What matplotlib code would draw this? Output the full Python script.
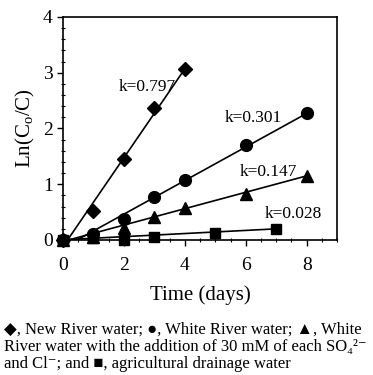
import matplotlib.pyplot as plt
from matplotlib.ticker import MultipleLocator

plt.rcParams['font.family'] = ['Liberation Serif', 'DejaVu Serif']
plt.rcParams['mathtext.fontset'] = 'custom'
plt.rcParams['mathtext.rm'] = 'Liberation Serif'

# data
t_new = [0, 1, 2, 3, 4]
y_new = [0, 0.52, 1.45, 2.36, 3.07]
t_white = [0, 1, 2, 3, 4, 6, 8]
y_white = [0, 0.1, 0.38, 0.77, 1.07, 1.70, 2.27]
t_salt = [0, 1, 2, 3, 4, 6, 8]
y_salt = [0, 0.05, 0.22, 0.42, 0.57, 0.83, 1.15]
t_agr = [0, 1, 2, 3, 5, 7]
y_agr = [0, 0.03, 0.0, 0.05, 0.13, 0.20]

k_vals = [0.797, 0.301, 0.147, 0.028]
k_labels = ['k=0.797', 'k=0.301', 'k=0.147', 'k=0.028']

caption_lines = ['\u25c6, New River water; \u25cf, White River water; \u25b2, White',
                 'River water with the addition of 30 mM of each SO\u2084\u00b2\u207b',
                 'and Cl\u207b; and \u25a0, agricultural drainage water']

fig = plt.figure(figsize=(3.73, 3.75), dpi=100)
ax = fig.add_axes([0.169, 0.36, 0.735, 0.595])

series = [(t_new, y_new, 'D', 7), (t_white, y_white, 'o', 8.5),
          (t_salt, y_salt, '^', 8.5), (t_agr, y_agr, 's', 7)]

for (t, y, m, ms), k in zip(series, k_vals):
    # fitted line through the last point with slope k, starting where it crosses zero
    b = y[-1] - k * t[-1]
    t0 = max(0, -b / k)
    ax.plot([t0, t[-1]], [k * t0 + b, y[-1]], color='black', lw=1.2)
    ax.plot(t, y, linestyle='none', marker=m, ms=ms, color='black', clip_on=False, zorder=3)

ax.text(2.75, 2.75, k_labels[0], fontsize=12.5, ha='center', va='center')
ax.text(6.25, 2.18, k_labels[1], fontsize=12.5, ha='center', va='center')
ax.text(6.75, 1.22, k_labels[2], fontsize=12.5, ha='center', va='center')
ax.text(7.55, 0.47, k_labels[3], fontsize=12.5, ha='center', va='center')

ax.set_xlim(0, 9)
ax.set_ylim(0, 4)
ax.set_xticks([0, 2, 4, 6, 8])
ax.set_yticks([0, 1, 2, 3, 4])
ax.xaxis.set_minor_locator(MultipleLocator(0.5))
ax.yaxis.set_minor_locator(MultipleLocator(0.2))
ax.tick_params(axis='both', which='major', direction='out', length=4, width=1, labelsize=14)
ax.tick_params(axis='x', which='major', pad=8)
ax.tick_params(axis='both', which='minor', direction='inout', length=3, width=0.8)
for s in ax.spines.values():
    s.set_linewidth(1.2)

ax.set_xlabel('Time (days)', fontsize=15, labelpad=8)
ax.set_ylabel(r'Ln(C$_\mathrm{o}$/C)', fontsize=15, labelpad=4)

for i, line in enumerate(caption_lines):
    fig.text(0.012, 1 - (334 + 17 * i) / 375, line, fontsize=12, ha='left', va='baseline',
             family=['Liberation Serif', 'DejaVu Serif'])

fig.savefig('out.png', dpi=100)
